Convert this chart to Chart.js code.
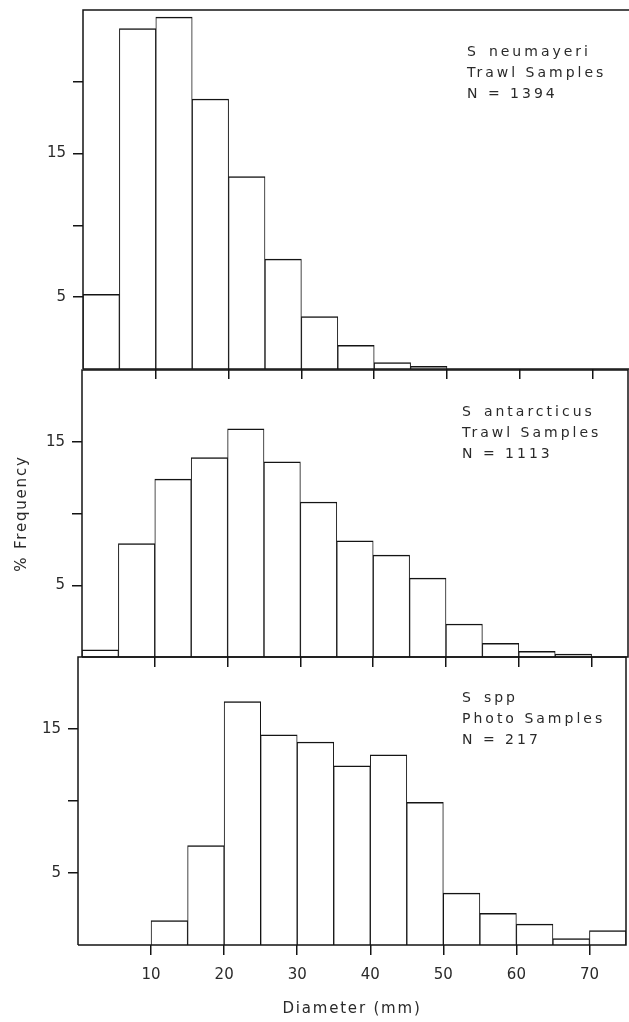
<!DOCTYPE html>
<html>
<head>
<meta charset="utf-8">
<script src="https://cdn.jsdelivr.net/npm/chart.js@4/dist/chart.umd.min.js"></script>
<style>
html,body{margin:0;padding:0;background:#fff;width:629px;height:1022px;overflow:hidden}
canvas{position:absolute;left:0;top:0}
</style>
</head>
<body>
<canvas id="p1" width="629" height="1022"></canvas>
<canvas id="p2" width="629" height="1022"></canvas>
<canvas id="p3" width="629" height="1022"></canvas>
<script>
// ---- data (diameter bins in mm, % frequency) ----
const binStarts = [0, 5, 10, 15, 20, 25, 30, 35, 40, 45, 50, 55, 60, 65, 70];
const binWidth = 5;
const neumayeriTrawl   = [5.2, 23.7, 24.5, 18.8, 13.4, 7.65, 3.65, 1.65, 0.45, 0.18, null, null, null, null, null];
const antarcticusTrawl = [0.5, 7.9, 12.4, 13.9, 15.9, 13.6, 10.8, 8.1, 7.1, 5.5, 2.3, 0.95, 0.4, 0.2, null];
const sppPhoto         = [null, null, 1.7, 6.9, 16.9, 14.6, 14.1, 12.45, 13.2, 9.9, 3.6, 2.2, 1.45, 0.45, 1.0];

const xTickValues = [10, 20, 30, 40, 50, 60, 70];
const xTickLabels = ['10', '20', '30', '40', '50', '60', '70'];
const yTickValuesTop = [5, 10, 15, 20];
const yTickValuesLower = [5, 10, 15];
const yLabelValues = [5, 15];

const note1 = ['S\u2002neumayeri', 'Trawl Samples', 'N = 1394'];
const note2 = ['S\u2002antarcticus', 'Trawl Samples', 'N = 1113'];
const note3 = ['S\u2002spp', 'Photo Samples', 'N = 217'];
const xTitle = 'Diameter (mm)';
const yTitle = '% Frequency';

// ---- styling ----
const lineColor = '#141414';
const textColor = '#2a2a2a';
Chart.defaults.font.family = "'DejaVu Sans', sans-serif";
Chart.defaults.color = textColor;

const spacingPlugin = {
  id: 'spacing',
  beforeDraw(chart) { chart.ctx.letterSpacing = '1.8px'; },
  afterDatasetsDraw(chart) { chart.ctx.letterSpacing = '0px'; }
};

const framePlugin = {
  id: 'frame',
  afterDatasetsDraw(chart, args, o) {
    const {left, right, top, bottom} = chart.chartArea;
    const ctx = chart.ctx;
    ctx.save();
    ctx.strokeStyle = lineColor;
    ctx.lineWidth = 1.5;
    ctx.beginPath();
    ctx.moveTo(left, bottom);
    ctx.lineTo(left, top);
    if (o.top) ctx.lineTo(right, top); else ctx.moveTo(right, top);
    if (o.right) ctx.lineTo(right, bottom); else ctx.moveTo(right, bottom);
    ctx.lineTo(left, bottom);
    ctx.stroke();
    ctx.restore();
  }
};

const notePlugin = {
  id: 'note',
  afterDraw(chart, args, o) {
    const ctx = chart.ctx;
    ctx.save();
    ctx.letterSpacing = '3px';
    ctx.font = "14px 'DejaVu Sans', sans-serif";
    ctx.fillStyle = textColor;
    ctx.textBaseline = 'middle';
    ctx.textAlign = 'left';
    o.lines.forEach((t, i) => ctx.fillText(t, o.x, o.y + i * o.dy));
    ctx.restore();
  }
};

function makePanel(id, values, g) {
  return new Chart(document.getElementById(id), {
    type: 'bar',
    data: {
      datasets: [{
        data: binStarts.map((s, i) => ({x: s + binWidth / 2, y: values[i]})),
        backgroundColor: '#ffffff',
        borderColor: lineColor,
        borderWidth: {top: 1.5, left: 1, right: 1, bottom: 0},
        borderSkipped: false,
        barPercentage: 1,
        categoryPercentage: 1
      }]
    },
    options: {
      responsive: false,
      animation: false,
      events: [],
      layout: {padding: {left: 0, top: g.top, right: 629 - g.right, bottom: 1022 - g.bottom - g.xh}},
      plugins: {
        legend: {display: false},
        tooltip: {enabled: false},
        frame: {top: true, right: g.rightBorder},
        note: {lines: g.lines, x: g.nx, y: g.ny, dy: 21}
      },
      scales: {
        x: {
          type: 'linear', min: 0, max: 75, position: 'bottom', offset: false,
          afterBuildTicks: s => { s.ticks = xTickValues.map(v => ({value: v})); },
          afterFit: s => { s.height = g.xh; s.paddingLeft = 0; s.paddingRight = 0; },
          grid: {offset: false, drawOnChartArea: false, drawTicks: true, tickLength: 10, color: lineColor, lineWidth: 1.5},
          border: {display: false},
          ticks: {display: g.showX, z: 1, padding: 11, font: {size: 15}, color: textColor,
                  maxRotation: 0, autoSkip: false, callback: (v, i) => xTickLabels[i]},
          title: {display: g.showX, text: xTitle, font: {size: 15}, color: textColor, padding: {top: 0, bottom: 0}}
        },
        y: {
          type: 'linear', min: 0, max: g.ymax,
          afterBuildTicks: s => { s.ticks = g.yticks.map(v => ({value: v})); },
          afterFit: s => { s.width = g.left; s.paddingTop = 0; s.paddingBottom = 0; },
          grid: {offset: false, drawOnChartArea: false, drawTicks: true, tickLength: 10, color: lineColor, lineWidth: 1.5},
          border: {display: false},
          ticks: {z: 1, padding: 7, font: {size: 15}, color: textColor, autoSkip: false,
                  callback: v => yLabelValues.includes(v) ? String(v) : ''},
          title: {display: g.showY, text: yTitle, font: {size: 15}, color: textColor, padding: {top: 13, bottom: 0}}
        }
      }
    },
    plugins: [spacingPlugin, framePlugin, notePlugin]
  });
}

makePanel('p1', neumayeriTrawl, {left: 83, top: 10, right: 629, bottom: 369, xh: 12, ymax: 25,
  yticks: yTickValuesTop, showX: false, showY: false, rightBorder: false, lines: note1, nx: 467, ny: 52});
makePanel('p2', antarcticusTrawl, {left: 82, top: 370, right: 628, bottom: 657, xh: 12, ymax: 20,
  yticks: yTickValuesLower, showX: false, showY: true, rightBorder: true, lines: note2, nx: 462, ny: 412});
makePanel('p3', sppPhoto, {left: 78, top: 657, right: 626, bottom: 945, xh: 73, ymax: 20,
  yticks: yTickValuesLower, showX: true, showY: false, rightBorder: true, lines: note3, nx: 462, ny: 698});
</script>
</body>
</html>
